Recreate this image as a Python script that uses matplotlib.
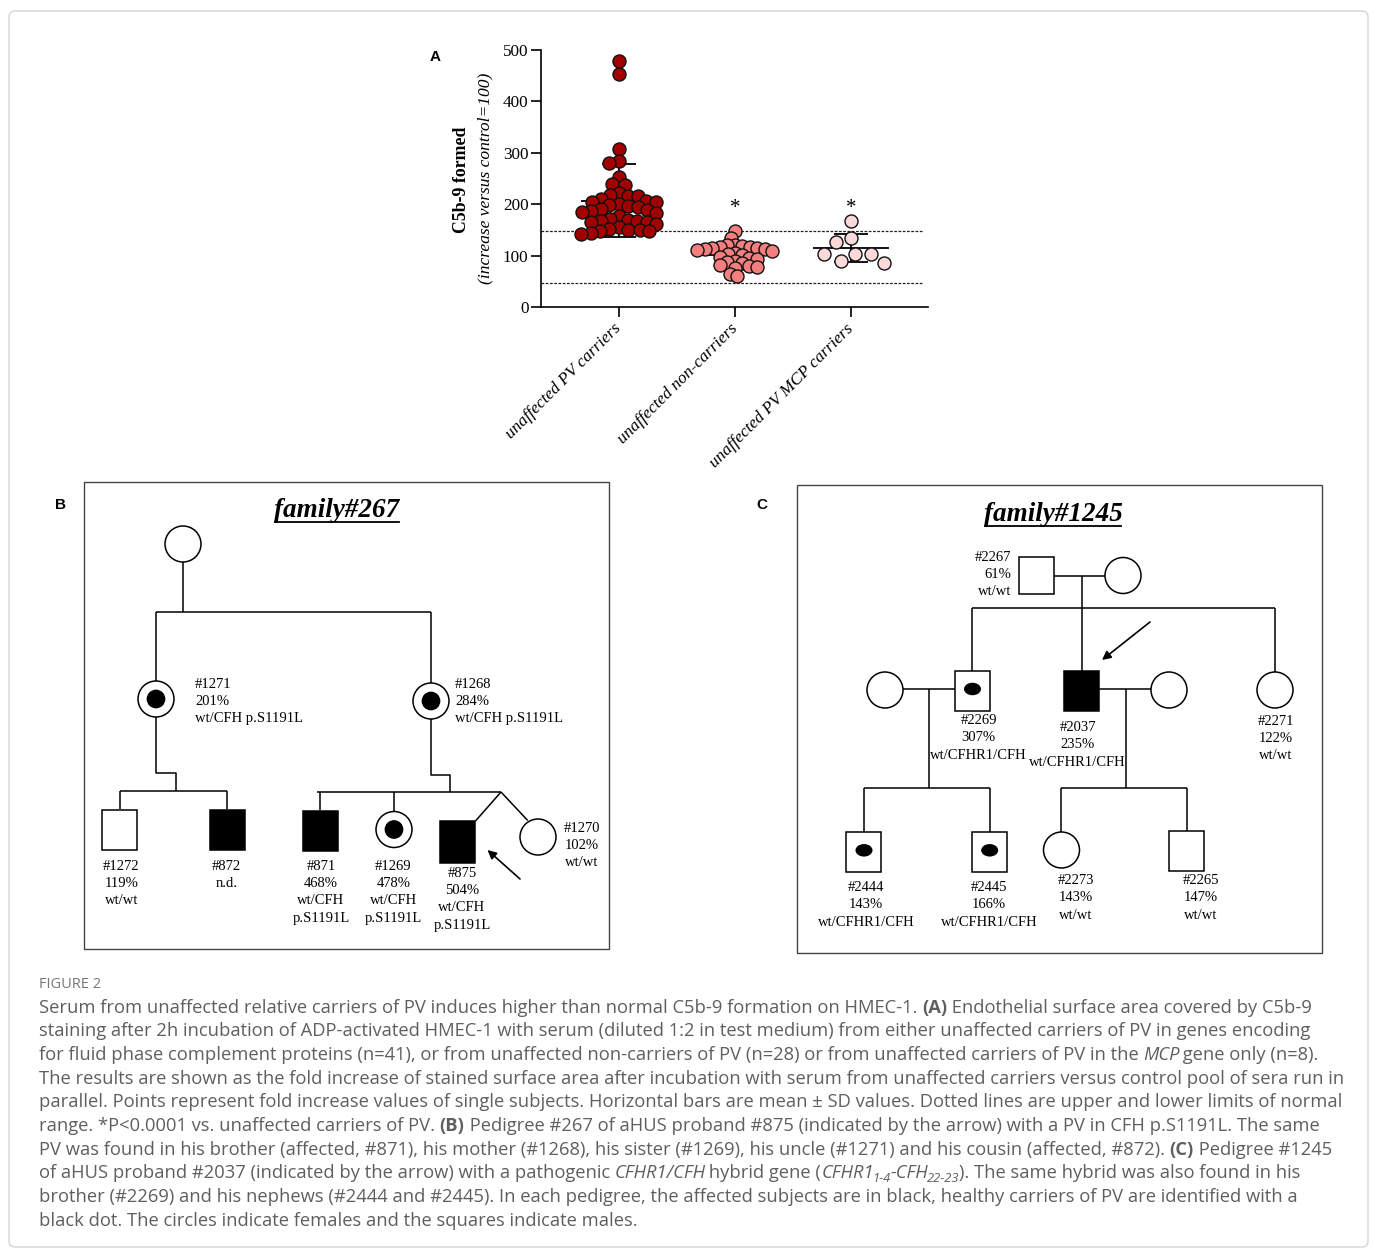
import numpy as np
import matplotlib
matplotlib.use('Agg')
import matplotlib.pyplot as plt
from matplotlib.patches import Circle, Rectangle, Ellipse, FancyBboxPatch, FancyArrowPatch

# ---------------------------------------------------------------- data
groups = ['unaffected PV carriers', 'unaffected non-carriers', 'unaffected PV MCP carriers']
pv_carriers = [478, 454, 307, 284, 281, 252, 240, 237, 222, 217, 216, 215, 210, 207,
               205, 205, 200, 198, 196, 195, 190, 188, 186, 185, 183, 178, 172, 170,
               168, 167, 166, 165, 162, 155, 152, 150, 150, 148, 147, 143, 142]
non_carriers = [148, 135, 121, 120, 118, 117, 116, 115, 114, 113, 112, 110, 108, 106,
                103, 101, 98, 96, 94, 90, 88, 85, 82, 79, 78, 75, 64, 61]
mcp_carriers = [167, 134, 126, 104, 104, 104, 90, 85]
normal_limits = [147, 47]
significance = ['', '*', '*']
yticks = [0, 100, 200, 300, 400, 500]

fam267_ids = ['#1271', '#1268', '#1272', '#872', '#871', '#1269', '#875', '#1270']
fam267_pct = ['201%', '284%', '119%', 'n.d.', '468%', '478%', '504%', '102%']
fam267_gen = ['wt/CFH p.S1191L', 'wt/CFH p.S1191L', 'wt/wt', '',
              'wt/CFH\np.S1191L', 'wt/CFH\np.S1191L', 'wt/CFH\np.S1191L', 'wt/wt']

fam1245_ids = ['#2267', '#2269', '#2037', '#2271', '#2444', '#2445', '#2273', '#2265']
fam1245_pct = ['61%', '307%', '235%', '122%', '143%', '166%', '143%', '147%']
fam1245_gen = ['wt/wt', 'wt/CFHR1/CFH', 'wt/CFHR1/CFH', 'wt/wt',
               'wt/CFHR1/CFH', 'wt/CFHR1/CFH', 'wt/wt', 'wt/wt']

caption_lines = [
    [("Serum from unaffected relative carriers of PV induces higher than normal C5b-9 formation on HMEC-1. ", 'n'), ("(A)", 'b'), (" Endothelial surface area covered by C5b-9", 'n')],
    [("staining after 2h incubation of ADP-activated HMEC-1 with serum (diluted 1:2 in test medium) from either unaffected carriers of PV in genes encoding", 'n')],
    [("for fluid phase complement proteins (n=41), or from unaffected non-carriers of PV (n=28) or from unaffected carriers of PV in the ", 'n'), ("MCP", 'i'), (" gene only (n=8).", 'n')],
    [("The results are shown as the fold increase of stained surface area after incubation with serum from unaffected carriers versus control pool of sera run in", 'n')],
    [("parallel. Points represent fold increase values of single subjects. Horizontal bars are mean \u00b1 SD values. Dotted lines are upper and lower limits of normal", 'n')],
    [("range. *P<0.0001 vs. unaffected carriers of PV. ", 'n'), ("(B)", 'b'), (" Pedigree #267 of aHUS proband #875 (indicated by the arrow) with a PV in CFH p.S1191L. The same", 'n')],
    [("PV was found in his brother (affected, #871), his mother (#1268), his sister (#1269), his uncle (#1271) and his cousin (affected, #872). ", 'n'), ("(C)", 'b'), (" Pedigree #1245", 'n')],
    [("of aHUS proband #2037 (indicated by the arrow) with a pathogenic ", 'n'), ("CFHR1/CFH", 'i'), (" hybrid gene (", 'n'), ("CFHR1", 'i'), ("1-4", 'is'), ("-CFH", 'i'), ("22-23", 'is'), ("). The same hybrid was also found in his", 'n')],
    [("brother (#2269) and his nephews (#2444 and #2445). In each pedigree, the affected subjects are in black, healthy carriers of PV are identified with a", 'n')],
    [("black dot. The circles indicate females and the squares indicate males.", 'n')],
]
caption_line_ends = [1312, 1314, 1328, 1328, 1328, 1317, 1328, 1336, 1298, 634]

# ---------------------------------------------------------------- styles
W, H = 1375, 1249
SERIF = 'Liberation Serif'
SANS = 'Liberation Sans'
CAPF = 'Open Sans'
colors = ['#A20000', '#F37F7F', '#FCDADA']
swarm_spacing = [9.6, 7.6, 16.0]   # px between neighbouring markers in the swarm
LW = 1.1

fig = plt.figure(figsize=(W / 100, H / 100), dpi=100)
bg = fig.add_axes([0, 0, 1, 1], zorder=0)
bg.set_xlim(0, W)
bg.set_ylim(H, 0)
bg.axis('off')
renderer = fig.canvas.get_renderer()

bg.add_patch(FancyBboxPatch((9, 11), 1359, 1236, boxstyle='round,pad=0,rounding_size=6',
                            ec='#d4d4d4', fc='none', lw=1))

# ---------------------------------------------------------------- panel A
axA = fig.add_axes([541 / W, 1 - 307 / H, (928 - 541) / W, (307 - 50) / H], zorder=2)
axA.set_facecolor('none')
axA.set_xlim(-0.672, 2.664)
axA.set_ylim(0, 500)
for s in ['top', 'right']:
    axA.spines[s].set_visible(False)
for s in ['left', 'bottom']:
    axA.spines[s].set_linewidth(1.2)
axA.set_yticks(yticks)
axA.set_yticklabels([str(t) for t in yticks], family=SERIF, fontsize=12.3)
axA.set_xticks(range(len(groups)))
axA.set_xticklabels(groups, rotation=45, ha='right', va='center', rotation_mode='anchor',
                    fontstyle='italic', family=SERIF, fontsize=12.3)
axA.tick_params(axis='both', direction='out', length=7, width=1.2, pad=2)
axA.tick_params(axis='x', pad=7)

ax_h_px = (307 - 50)
ax_w_px = (928 - 541)
py_per_unit = ax_h_px / 500.0
px_per_cat = ax_w_px / (2.664 + 0.672)


def swarm_offsets(values, d):
    placed = []
    out = []
    for v in values:
        y = v * py_per_unit
        cands = [0.0]
        for px, py in placed:
            ddy = abs(y - py)
            if ddy < d:
                dx = np.sqrt(d * d - ddy * ddy)
                cands += [px + dx, px - dx]
        cands = sorted(cands, key=lambda c: (abs(c), c))
        chosen = cands[-1]
        for c in cands:
            if all((c - px) ** 2 + (y - py) ** 2 >= d * d - 1e-6 for px, py in placed):
                chosen = c
                break
        placed.append((chosen, y))
        out.append(chosen)
    return np.array(out) / px_per_cat


axA.hlines(normal_limits, -0.672, 2.62, colors='#222222', linestyles=(0, (2.2, 1.2)), lw=0.9, zorder=1)

for i, vals in enumerate([pv_carriers, non_carriers, mcp_carriers]):
    vals = np.array(vals, dtype=float)
    m = vals.mean()
    sd = vals.std(ddof=1)
    axA.hlines(m, i - 0.33, i + 0.33, colors='black', lw=1.3, zorder=2)
    axA.vlines(i, m - sd, m + sd, colors='black', lw=1.3, zorder=2)
    axA.hlines([m - sd, m + sd], i - 0.15, i + 0.15, colors='black', lw=1.3, zorder=2)
    offs = swarm_offsets(vals, swarm_spacing[i])
    axA.scatter(i + offs, vals, s=88, c=colors[i], edgecolors='#111111', linewidths=1.0,
                zorder=3, clip_on=False)
    if significance[i]:
        axA.text(i, 183, significance[i], ha='center', va='baseline', family=SERIF, fontsize=15)

bg.text(462, 180, 'C5b-9 formed', rotation=90, ha='center', va='center', family=SERIF,
        weight='bold', fontsize=12.8)
bg.text(485, 178, '(increase versus control=100)', rotation=90, ha='center', va='center',
        family=SERIF, style='italic', fontsize=12.6)
bg.text(435, 57, 'A', ha='center', va='center', family=SANS, weight='bold', fontsize=11)

# ---------------------------------------------------------------- pedigree helpers
PFS = 10.5
DY = 17.4


def pline(xs, ys):
    bg.plot(xs, ys, color='black', lw=LW, solid_capstyle='butt', zorder=1)


def pcircle(x, y, r=18, dot=False):
    bg.add_patch(Circle((x, y), r, fc='white', ec='black', lw=LW, zorder=2))
    if dot:
        bg.add_patch(Circle((x, y), r * 0.52, fc='black', ec='black', lw=0, zorder=3))


def psquare(x, y, w=35, h=40, filled=False, dot=False):
    bg.add_patch(Rectangle((x - w / 2, y - h / 2), w, h, fc='black' if filled else 'white',
                           ec='black', lw=LW, zorder=2))
    if dot:
        bg.add_patch(Ellipse((x, y - 2), 17, 12.5, fc='black', ec='none', zorder=3))


def plabel(x, y0, lines, ha='center'):
    for k, ln in enumerate(lines):
        bg.text(x, y0 + k * DY, ln, ha=ha, va='center', family=SERIF, fontsize=PFS, zorder=4)


def lines_of(ids, pct, gen, k):
    out = [ids[k], pct[k]]
    if gen[k]:
        out += gen[k].split('\n')
    return out


def title(xc, yb, txt):
    t = bg.text(xc, yb, txt, ha='center', va='baseline', family=SERIF, weight='bold',
                style='italic', fontsize=19.5)
    bb = t.get_window_extent(renderer)
    bg.plot([bb.x0 + 1, bb.x1 - 1], [yb + 5, yb + 5], color='black', lw=1.3)


def arrow(p0, p1):
    bg.add_patch(FancyArrowPatch(p0, p1, arrowstyle='-|>', mutation_scale=13, lw=1.2,
                                 color='black', shrinkA=0, shrinkB=0, zorder=4))

# ---------------------------------------------------------------- panel B
bg.add_patch(Rectangle((84, 482), 525, 467, fc='none', ec='#444444', lw=1.0))
bg.text(61, 505, 'B', ha='center', va='center', family=SANS, weight='bold', fontsize=11)
title(337, 517, 'family#267')

pcircle(183, 544)
pline([183, 183], [562, 612])
pline([156, 431], [612, 612])
pline([156, 156], [612, 681])
pline([431, 431], [612, 683])
pcircle(156, 699, dot=True)
pcircle(431, 701, dot=True)
# left sibship
pline([156, 156, 176.5, 176.5], [717, 773, 773, 791])
pline([120, 227.5], [791, 791])
pline([120, 120], [791, 809])
pline([227.5, 227.5], [791, 809])
psquare(120, 829.5)
psquare(227.5, 829.5, filled=True)
# right sibship
pline([431, 431, 450, 450], [719, 775, 775, 792])
pline([317, 501], [792, 792])
pline([320.4, 320.4], [792, 810])
pline([394, 394], [792, 811.5])
psquare(320.4, 831, filled=True)
pcircle(394, 829.5, dot=True)
psquare(458, 842, h=42, filled=True)
pline([501, 475.5], [792, 821])
pline([501, 527.7], [792, 820.5])
pcircle(538, 837)
arrow((520, 879), (487.5, 850))

plabel(195, 684, lines_of(fam267_ids, fam267_pct, fam267_gen, 0), ha='left')
plabel(455, 684, lines_of(fam267_ids, fam267_pct, fam267_gen, 1), ha='left')
plabel(121.3, 866, lines_of(fam267_ids, fam267_pct, fam267_gen, 2))
plabel(226.3, 866, lines_of(fam267_ids, fam267_pct, fam267_gen, 3))
plabel(321, 866, lines_of(fam267_ids, fam267_pct, fam267_gen, 4))
plabel(393.4, 866, lines_of(fam267_ids, fam267_pct, fam267_gen, 5))
plabel(462, 873, lines_of(fam267_ids, fam267_pct, fam267_gen, 6))
plabel(582, 828, lines_of(fam267_ids, fam267_pct, fam267_gen, 7))

# ---------------------------------------------------------------- panel C
bg.add_patch(Rectangle((797, 485), 525, 468, fc='none', ec='#444444', lw=1.0))
bg.text(762, 505, 'C', ha='center', va='center', family=SANS, weight='bold', fontsize=11)
title(1053, 521, 'family#1245')

psquare(1036.5, 575, h=37)
pcircle(1123, 575.5)
pline([1054, 1105], [575.5, 575.5])
pline([1082, 1082], [575.5, 670.5])
pline([972.5, 1275], [608.3, 608.3])
pline([972.5, 972.5], [608.3, 671])
pline([1275, 1275], [608.3, 672])
# generation II
pcircle(885, 690)
psquare(972.5, 691, dot=True)
psquare(1081.4, 690.5, filled=True)
pcircle(1169, 690)
pcircle(1275, 690)
pline([903, 955], [689, 689])
pline([1099, 1151], [689, 689])
# children of #2269
pline([928.8, 928.8], [689, 788])
pline([864, 989.7], [788, 788])
pline([864, 864], [788, 832.3])
pline([989.7, 989.7], [788, 832.3])
psquare(864, 852.3, dot=True)
psquare(989.7, 852.3, dot=True)
# children of #2037
pline([1125.7, 1125.7], [689, 787.5])
pline([1061.5, 1187], [787.5, 787.5])
pline([1061.5, 1061.5], [787.5, 832])
pline([1187, 1187], [787.5, 830.7])
pcircle(1061.5, 850)
psquare(1187, 850.7)
arrow((1150, 622), (1102, 660))

plabel(1011, 557, lines_of(fam1245_ids, fam1245_pct, fam1245_gen, 0), ha='right')
plabel(978.7, 720.5, lines_of(fam1245_ids, fam1245_pct, fam1245_gen, 1))
plabel(1077.5, 727.5, lines_of(fam1245_ids, fam1245_pct, fam1245_gen, 2))
plabel(1275.5, 721, lines_of(fam1245_ids, fam1245_pct, fam1245_gen, 3))
plabel(865.8, 887.5, lines_of(fam1245_ids, fam1245_pct, fam1245_gen, 4))
plabel(989, 887.5, lines_of(fam1245_ids, fam1245_pct, fam1245_gen, 5))
plabel(1075.8, 880.5, lines_of(fam1245_ids, fam1245_pct, fam1245_gen, 6))
plabel(1200.5, 880.5, lines_of(fam1245_ids, fam1245_pct, fam1245_gen, 7))

# ---------------------------------------------------------------- caption
CAPC = '#5f5f5f'
STY = {'n': dict(), 'b': dict(weight='bold'), 'i': dict(style='italic'),
       'is': dict(style='italic')}


def seg_width(s, size, kind):
    kw = dict(family=CAPF, fontsize=size, **STY[kind])
    t1 = bg.text(0, 0, '|' + s + '|', **kw)
    w1 = t1.get_window_extent(renderer).width
    t1.remove()
    t2 = bg.text(0, 0, '||', **kw)
    w2 = t2.get_window_extent(renderer).width
    t2.remove()
    return w1 - w2


def line_width(segs, size):
    return sum(seg_width(s, size * (0.7 if k == 'is' else 1.0), k) for s, k in segs)


ref_size = 10.0
ratios = [(end - 39) / line_width(segs, ref_size) for segs, end in zip(caption_lines, caption_line_ends)]
cap_size = ref_size * float(np.median(ratios))

bg.text(39, 987.5, 'FIGURE 2', ha='left', va='baseline', family=CAPF, fontsize=cap_size * 0.8,
        color='#777777')
for li, segs in enumerate(caption_lines):
    x = 39.0
    yb = 1012.5 + li * 23.7
    for s, k in segs:
        size = cap_size * (0.7 if k == 'is' else 1.0)
        yy = yb + (4 if k == 'is' else 0)
        bg.text(x, yy, s, ha='left', va='baseline', family=CAPF, fontsize=size,
                color=CAPC, **STY[k])
        x += seg_width(s, size, k) - (1.5 if k == 'i' else 0)

fig.savefig('out.png', dpi=100)
